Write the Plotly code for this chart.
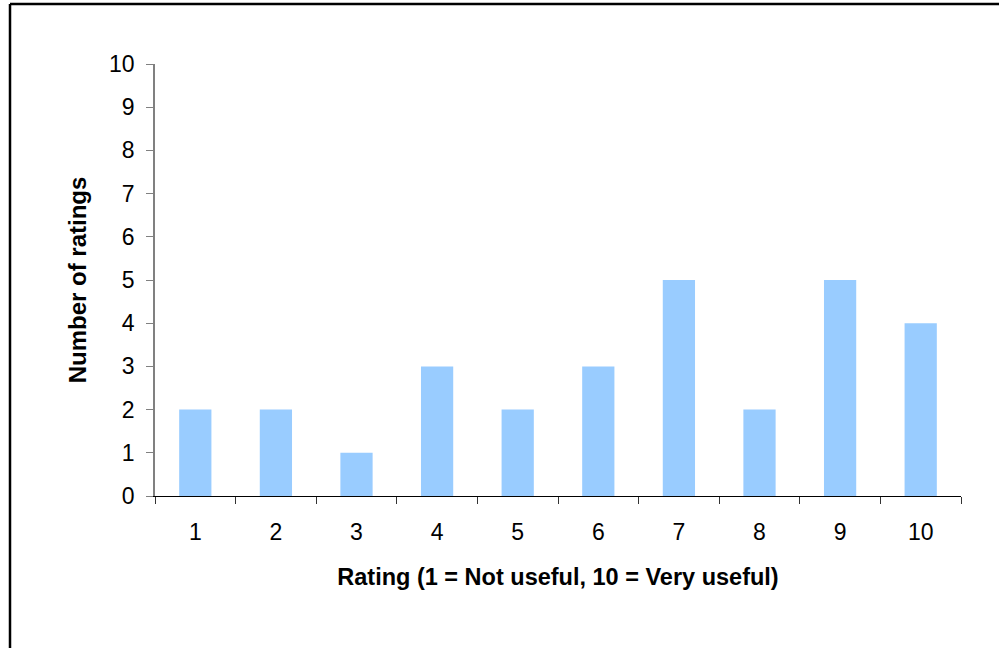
import plotly.graph_objects as go

ratings = ["1", "2", "3", "4", "5", "6", "7", "8", "9", "10"]
counts = [2, 2, 1, 3, 2, 3, 5, 2, 5, 4]
y_ticks = list(range(0, 11))

FONT = "Arial, 'Liberation Sans', sans-serif"

fig = go.Figure(
    go.Bar(
        x=ratings,
        y=counts,
        marker=dict(color="#99CCFF", line=dict(width=0)),
        width=0.4,
    )
)

W, H = 999, 648
ml, mr, mt, mb = 155, 38, 64, 152
pw, ph = W - ml - mr, H - mt - mb

# outer frame around the chart area (left and top edges visible)
fx0 = (10 - ml) / pw
fy1 = (ph + mt - 4) / ph
fig.add_shape(type="line", xref="paper", yref="paper",
              x0=fx0, x1=fx0, y0=fy1, y1=-1.0,
              line=dict(color="black", width=2.5))
fig.add_shape(type="line", xref="paper", yref="paper",
              x0=fx0, x1=1.2, y0=fy1, y1=fy1,
              line=dict(color="black", width=2.5))

fig.update_layout(
    width=W, height=H,
    margin=dict(l=ml, r=mr, t=mt, b=mb),
    paper_bgcolor="white", plot_bgcolor="white",
    showlegend=False,
    font=dict(family=FONT, size=23, color="black"),
    xaxis=dict(
        type="category",
        tickson="boundaries",
        ticks="outside", ticklen=7, tickcolor="#333333", tickwidth=1,
        ticklabelstandoff=15,
        showline=True, linecolor="black", linewidth=1,
        showgrid=False,
        tickfont=dict(size=23),
        title=dict(text="<b>Rating (1 = Not useful, 10 = Very useful)</b>",
                   font=dict(size=23.5), standoff=24),
    ),
    yaxis=dict(
        range=[0, 10],
        tickvals=y_ticks,
        ticks="outside", ticklen=7, tickcolor="#808080", tickwidth=1,
        ticklabelstandoff=7,
        showline=True, linecolor="#808080", linewidth=1.5,
        showgrid=False, zeroline=False,
        tickfont=dict(size=23),
        title=dict(text="<b>Number of ratings</b>", font=dict(size=24), standoff=16),
    ),
)

fig.write_html("out.html")
